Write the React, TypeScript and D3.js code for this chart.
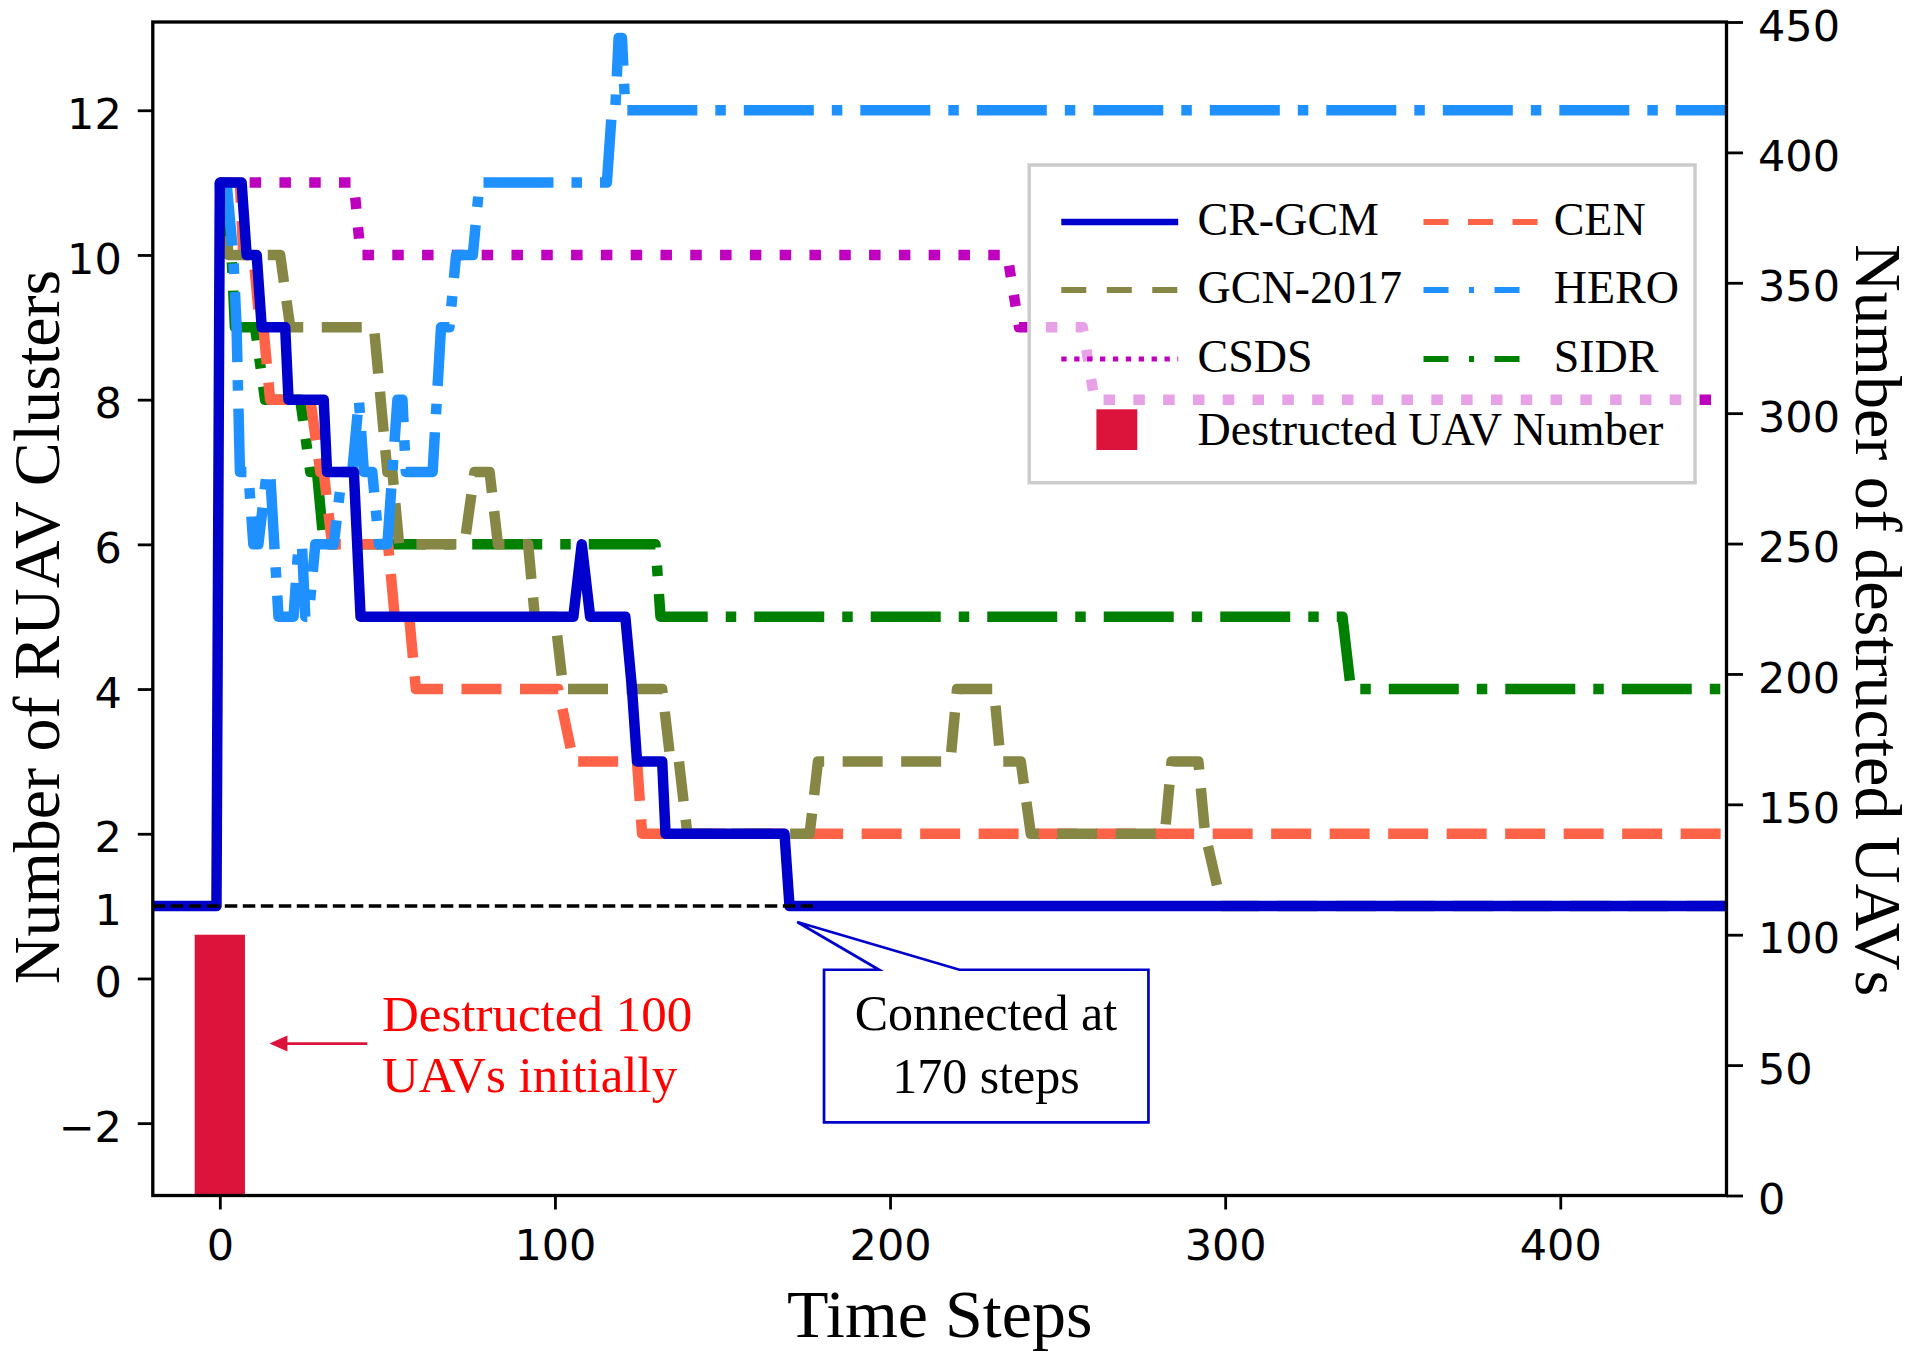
import { useEffect, useRef } from 'react';
import * as d3 from 'd3';

type Pt = [number, number];

// [time step, number of clusters] vertices
const crGcm: Pt[] = [
  [-20, 1], [-1, 1], [0, 11], [6.5, 11], [8, 10], [11, 10], [12.5, 9], [19.5, 9], [20.5, 8],
  [31, 8], [32, 7], [40, 7], [42, 5], [105.5, 5], [108, 6], [110.5, 5], [121, 5], [123, 4],
  [124.5, 3], [132, 3], [133, 2], [168.5, 2], [170, 1], [450, 1],
];
const gcn2017: Pt[] = [
  [0, 11], [1.5, 11], [2.5, 10], [18, 10], [21, 9], [46, 9], [50, 7], [51.5, 7], [53.5, 6],
  [73, 6], [76, 7], [80.5, 7], [83, 6], [92, 6], [94, 5], [100, 5], [102.5, 4], [132, 4],
  [134.5, 3], [137, 3], [139.5, 2], [176, 2], [178.5, 3], [218, 3], [220, 4], [231, 4],
  [233, 3], [239, 3], [242, 2], [282, 2], [284, 3], [292, 3], [294, 2], [299, 1], [450, 1],
];
const csds: Pt[] = [
  [0, 11], [40, 11], [42, 10], [235, 10], [238.5, 9], [257.5, 9], [261, 8], [450, 8],
];
const cen: Pt[] = [
  [0, 11], [6, 11], [7, 10], [10, 10], [12, 9], [13, 9], [15, 8], [27, 8], [30, 7], [31, 7],
  [33.5, 6], [50.2, 6], [52.2, 5], [56.5, 5], [58.5, 4], [101, 4], [105.5, 3], [124.5, 3],
  [126, 2], [450, 2],
];
const hero: Pt[] = [
  [0, 11], [2, 11], [4, 10], [5, 9], [5.5, 8], [6, 7], [8.5, 7], [10, 6], [11.5, 6], [14, 7],
  [15, 7], [17.5, 5], [22, 5], [23.5, 6], [24.5, 6], [25.5, 5], [26.5, 5], [28.5, 6], [34, 6],
  [36.5, 7], [39.5, 7], [41.5, 8], [43, 7], [45.5, 7], [47.5, 6], [50, 6], [53, 8], [54.5, 8],
  [55.5, 7], [63.5, 7], [66, 9], [68.5, 9], [70.5, 10], [75.5, 10], [77.5, 11], [115.5, 11],
  [117, 12], [118, 12], [119, 13], [120, 13], [121, 12], [450, 12],
];
const sidr: Pt[] = [
  [0, 11], [1, 10], [3.5, 10], [4.5, 9], [10.5, 9], [13.5, 8], [24, 8], [27, 7], [29, 7],
  [31, 6], [130, 6], [131.5, 5], [335, 5], [337.5, 4], [450, 4],
];
const connectedRef: Pt[] = [[-20, 1], [177, 1]];

const barSteps = [0];
const barCounts = [100];

const xTicks = [0, 100, 200, 300, 400];
const leftTicks = [-2, 0, 1, 2, 4, 6, 8, 10, 12];
const rightTicks = [0, 50, 100, 150, 200, 250, 300, 350, 400, 450];

const W = 1916;
const H = 1358;
const M = { left: 152.8, right: 1726.5, top: 22, bottom: 1195.5 };
const SERIF = '"Liberation Serif", "Times New Roman", serif';
const SANS = '"DejaVu Sans", sans-serif';

interface SeriesStyle {
  name: string;
  data: Pt[];
  color: string;
  dash: string | null;
  legendDash: string | null;
  legendWidth: number;
  col: number;
  row: number;
}

const LW = 10.5;
const DASHED = '40 18.5';
const DASHDOT = '70 18 10.5 18';
const DOTTED = '11.5 18.3';

// draw order bottom -> top
const series: SeriesStyle[] = [
  { name: 'CSDS', data: csds, color: '#bf00bf', dash: DOTTED, legendDash: '5.3 7.6', legendWidth: 5, col: 0, row: 2 },
  { name: 'SIDR', data: sidr, color: '#008000', dash: DASHDOT, legendDash: '25 20.5 5 20.5', legendWidth: 6, col: 1, row: 2 },
  { name: 'CEN', data: cen, color: '#ff6347', dash: DASHED, legendDash: '25 19.5', legendWidth: 6, col: 1, row: 0 },
  { name: 'GCN-2017', data: gcn2017, color: '#868645', dash: DASHED, legendDash: '25 20.5', legendWidth: 6, col: 0, row: 1 },
  { name: 'HERO', data: hero, color: '#1e90ff', dash: DASHDOT, legendDash: '25 20.5 5 20.5', legendWidth: 6, col: 1, row: 1 },
  { name: 'CR-GCM', data: crGcm, color: '#0000cd', dash: null, legendDash: null, legendWidth: 6.5, col: 0, row: 0 },
];

function Chart() {
  const ref = useRef<SVGSVGElement | null>(null);

  useEffect(() => {
    if (!ref.current) return;
    const svg = d3.select(ref.current);
    svg.selectAll('*').remove();

    const x = d3.scaleLinear().domain([-20, 449.6]).range([M.left, M.right]);
    const yL = d3.scaleLinear().domain([-3, 13.22]).range([M.bottom, M.top]);
    const yR = d3.scaleLinear().domain([0, 450]).range([M.bottom, M.top]);

    svg.append('rect').attr('width', W).attr('height', H).attr('fill', '#fff');

    svg.append('defs').append('clipPath').attr('id', 'plot-clip')
      .append('rect')
      .attr('x', M.left).attr('y', M.top)
      .attr('width', M.right - M.left).attr('height', M.bottom - M.top);

    const plot = svg.append('g').attr('clip-path', 'url(#plot-clip)');
    const line = d3.line<Pt>().x((d) => x(d[0])).y((d) => yL(d[1]));

    series.forEach((s) => {
      plot.append('path')
        .attr('d', line(s.data))
        .attr('fill', 'none')
        .attr('stroke', s.color)
        .attr('stroke-width', LW)
        .attr('stroke-linejoin', 'round')
        .attr('stroke-linecap', s.dash ? 'butt' : 'square')
        .attr('stroke-dasharray', s.dash);
    });

    plot.append('path')
      .attr('d', line(connectedRef))
      .attr('fill', 'none')
      .attr('stroke', '#000')
      .attr('stroke-width', 3.5)
      .attr('stroke-dasharray', '12.5 5.5');

    // destructed UAV bar (right axis)
    const barW = 15;
    plot.selectAll('rect.bar')
      .data(barSteps.map((t, i) => ({ t, n: barCounts[i] })))
      .join('rect')
      .attr('class', 'bar')
      .attr('x', (d) => x(d.t - barW / 2))
      .attr('width', (d) => x(d.t + barW / 2) - x(d.t - barW / 2))
      .attr('y', (d) => yR(d.n))
      .attr('height', (d) => yR(0) - yR(d.n))
      .attr('fill', '#dc143c');

    // axes
    const styleAxis = (g: d3.Selection<SVGGElement, unknown, null, undefined>) => {
      g.select('.domain').remove();
      g.selectAll('.tick line').attr('stroke', '#000').attr('stroke-width', 2.8);
      g.selectAll('.tick text')
        .attr('font-family', SANS)
        .attr('font-size', 43)
        .attr('fill', '#000');
    };

    const gx = svg.append('g')
      .attr('transform', `translate(0,${M.bottom})`)
      .call(d3.axisBottom(x).tickValues(xTicks).tickSize(14).tickPadding(20).tickSizeOuter(0));
    styleAxis(gx);

    const gyL = svg.append('g')
      .attr('transform', `translate(${M.left},0)`)
      .call(d3.axisLeft(yL).tickValues(leftTicks).tickSize(15).tickPadding(16).tickSizeOuter(0));
    styleAxis(gyL);
    gyL.selectAll('.tick text').attr('dy', '0.42em');
    gyL.selectAll<SVGGElement, number>('.tick').filter((d) => d === 1).select('line').remove();

    const gyR = svg.append('g')
      .attr('transform', `translate(${M.right},0)`)
      .call(d3.axisRight(yR).tickValues(rightTicks).tickSize(16.5).tickPadding(15).tickSizeOuter(0));
    styleAxis(gyR);
    gyR.selectAll('.tick text').attr('dy', '0.42em');

    svg.append('rect')
      .attr('x', M.left).attr('y', M.top)
      .attr('width', M.right - M.left).attr('height', M.bottom - M.top)
      .attr('fill', 'none').attr('stroke', '#000').attr('stroke-width', 3.3);

    // axis labels
    svg.append('text')
      .attr('x', (M.left + M.right) / 2).attr('y', 1336.7)
      .attr('text-anchor', 'middle')
      .attr('font-family', SERIF).attr('font-size', 68)
      .text('Time Steps');
    svg.append('text')
      .attr('transform', 'translate(59,627) rotate(-90)')
      .attr('text-anchor', 'middle')
      .attr('font-family', SERIF).attr('font-size', 66)
      .text('Number of RUAV Clusters');
    svg.append('text')
      .attr('transform', 'translate(1856,620) rotate(90)')
      .attr('text-anchor', 'middle')
      .attr('font-family', SERIF).attr('font-size', 66)
      .text('Number of destructed UAVs');

    // red note + arrow
    const note = svg.append('text')
      .attr('x', x(48.4)).attr('y', yL(-0.73))
      .attr('font-family', SERIF).attr('font-size', 51)
      .attr('fill', '#ff0000');
    note.append('tspan').attr('x', x(48.4)).text('Destructed 100');
    note.append('tspan').attr('x', x(48.4)).attr('dy', 61).text('UAVs initially');

    const ay = yL(-0.9);
    const tipX = x(14.8);
    svg.append('line')
      .attr('x1', x(44)).attr('y1', ay)
      .attr('x2', tipX + 14).attr('y2', ay)
      .attr('stroke', '#dc143c').attr('stroke-width', 2.8);
    svg.append('path')
      .attr('d', `M${tipX},${ay} L${tipX + 18},${ay - 8} L${tipX + 18},${ay + 8} Z`)
      .attr('fill', '#dc143c');

    // callout box
    const bx0 = x(180.3);
    const bx1 = x(277.1);
    const by0 = yL(0.12);
    const by1 = yL(-1.99);
    const f1 = x(196.7);
    const f2 = x(220.7);
    const tip: Pt = [x(172.3), yL(0.78)];
    svg.append('path')
      .attr('d', `M${f1},${by0} L${tip[0]},${tip[1]} L${f2},${by0} L${bx1},${by0} L${bx1},${by1} L${bx0},${by1} L${bx0},${by0} Z`)
      .attr('fill', '#fff')
      .attr('stroke', '#0000cd')
      .attr('stroke-width', 2.7)
      .attr('stroke-linejoin', 'miter');
    const call = svg.append('text')
      .attr('text-anchor', 'middle')
      .attr('font-family', SERIF).attr('font-size', 50)
      .attr('fill', '#000');
    call.append('tspan').attr('x', x(228.6)).attr('y', yL(-0.712)).text('Connected at');
    call.append('tspan').attr('x', x(228.6)).attr('y', yL(-1.578)).text('170 steps');

    // legend
    const lg = svg.append('g');
    lg.append('rect')
      .attr('x', 1029.2).attr('y', 165)
      .attr('width', 1695 - 1029.2).attr('height', 482.7 - 165)
      .attr('fill', '#fff').attr('fill-opacity', 0.63)
      .attr('stroke', '#cccccc').attr('stroke-width', 3.5);

    const cols = [
      { h0: 1061.3, h1: 1178.2, tx: 1197.5 },
      { h0: 1423.5, h1: 1538.5, tx: 1553.7 },
    ];
    const rows = [222, 290, 359, 429.6];
    const legendOrder = ['CR-GCM', 'GCN-2017', 'CSDS', 'CEN', 'HERO', 'SIDR'];
    legendOrder.forEach((name) => {
      const s = series.find((d) => d.name === name)!;
      const c = cols[s.col];
      const ry = rows[s.row];
      lg.append('line')
        .attr('x1', c.h0).attr('x2', c.h1)
        .attr('y1', ry).attr('y2', ry)
        .attr('stroke', s.color)
        .attr('stroke-width', s.legendWidth)
        .attr('stroke-dasharray', s.legendDash);
      lg.append('text')
        .attr('x', c.tx).attr('y', ry + 13)
        .attr('font-family', SERIF).attr('font-size', 46)
        .text(s.name);
    });
    lg.append('rect')
      .attr('x', 1096.4).attr('y', 409.3)
      .attr('width', 40.9).attr('height', 40.7)
      .attr('fill', '#dc143c');
    lg.append('text')
      .attr('x', 1197.5).attr('y', rows[3] + 15)
      .attr('font-family', SERIF).attr('font-size', 46)
      .text('Destructed UAV Number');
  }, []);

  return (
    <svg
      ref={ref}
      width={W}
      height={H}
      viewBox={`0 0 ${W} ${H}`}
      style={{ position: 'absolute', left: 0, top: 0, display: 'block' }}
    />
  );
}

export default function App() {
  return <Chart />;
}
